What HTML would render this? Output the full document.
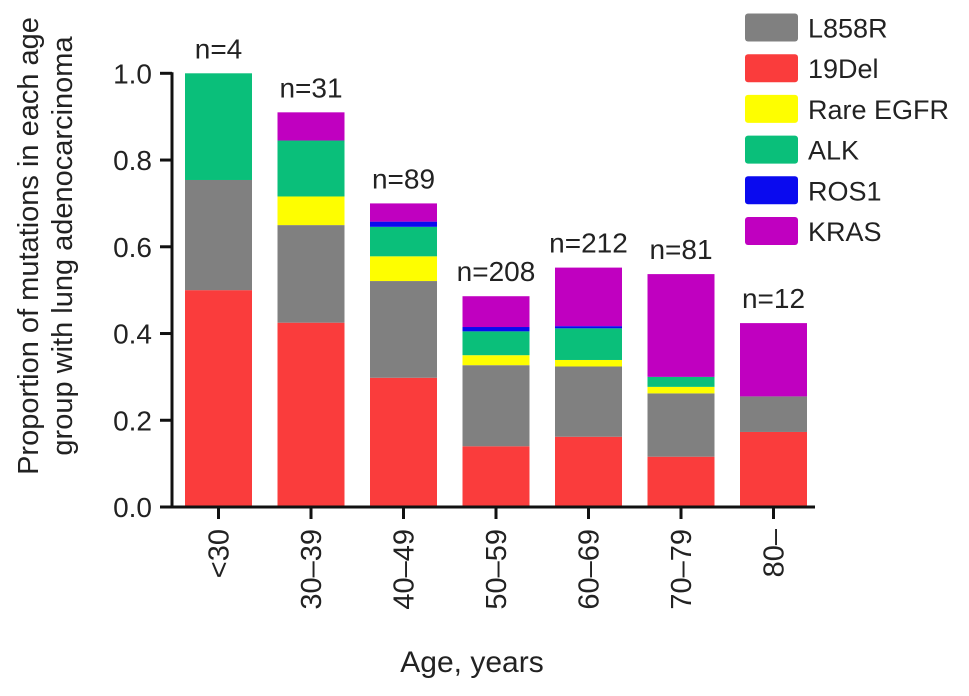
<!DOCTYPE html>
<html><head><meta charset="utf-8"><style>
body{margin:0;background:#fff}
svg text{font-family:"Liberation Sans",Arial,sans-serif;fill:#222}
</style></head><body>
<svg id="chart" width="969" height="691" viewBox="0 0 969 691" xmlns="http://www.w3.org/2000/svg">
<g id="bars"></g>
<g id="axes"></g>
<g id="legend"></g>
<text transform="translate(38,246) rotate(-90)" text-anchor="middle" font-size="29">Proportion of mutations in each age</text>
<text transform="translate(72,246) rotate(-90)" text-anchor="middle" font-size="29">group with lung adenocarcinoma</text>
<text x="472" y="672" text-anchor="middle" font-size="30">Age, years</text>
</svg>
<script>
const categories=["<30","30\u201339","40\u201349","50\u201359","60\u201369","70\u201379","80\u2013"];
const counts=["n=4","n=31","n=89","n=208","n=212","n=81","n=12"];
const seriesNames=["19Del","L858R","Rare EGFR","ALK","ROS1","KRAS"];
const del19=[0.5,0.425,0.298,0.14,0.162,0.116,0.173];
const l858r=[0.254,0.225,0.223,0.187,0.162,0.146,0.082];
const rareEgfr=[0,0.066,0.057,0.023,0.015,0.015,0];
const alk=[0.246,0.129,0.068,0.055,0.073,0.023,0];
const ros1=[0,0,0.012,0.01,0.005,0,0];
const kras=[0,0.065,0.042,0.071,0.135,0.237,0.169];
const yTicks=[0,0.2,0.4,0.6,0.8,1.0];
const yTickLabels=["0.0","0.2","0.4","0.6","0.8","1.0"];
const legendOrder=["L858R","19Del","Rare EGFR","ALK","ROS1","KRAS"];

const colors={"19Del":"#fa3c3c","L858R":"#808080","Rare EGFR":"#fefe00","ALK":"#0abf7a","ROS1":"#0a0aef","KRAS":"#c000c0"};
const series=[del19,l858r,rareEgfr,alk,ros1,kras];
const NS="http://www.w3.org/2000/svg";
const y0=507,y1=73.3,axX=172,firstC=218.5,step=92.5,bw=67;
const yS=v=>y0-(y0-y1)*v;
const xC=i=>firstC+i*step;
function mk(tag,attrs,parent){const e=document.createElementNS(NS,tag);for(const k in attrs)e.setAttribute(k,attrs[k]);parent.appendChild(e);return e;}
const bars=document.getElementById('bars'),axes=document.getElementById('axes'),legend=document.getElementById('legend');
categories.forEach((c,i)=>{
  let cum=0;
  series.forEach((s,j)=>{
    const v=s[i]; if(v<=0)return;
    const r=mk('rect',{x:xC(i)-bw/2,y:yS(cum+v),width:bw,height:yS(cum)-yS(cum+v),fill:colors[seriesNames[j]]},bars);
    
    
    cum+=v;
  });
  const t=mk('text',{x:xC(i),y:yS(cum)-15,'text-anchor':'middle','font-size':'28'},bars);
  t.textContent=counts[i];
  
  
  const tk=mk('line',{x1:xC(i),x2:xC(i),y1:y0,y2:y0+12,stroke:'#111','stroke-width':3},axes);
  
  
  const lb=mk('text',{transform:`translate(${xC(i)+10},${y0+22}) rotate(-90)`,'text-anchor':'end','font-size':'29'},axes);
  lb.textContent=c;
  
  
});
const ya=mk('line',{x1:axX,x2:axX,y1:y1-1,y2:y0+1.5,stroke:'#111','stroke-width':3},axes);


const xa=mk('line',{x1:axX-12,x2:xC(6)+bw/2+8,y1:y0,y2:y0,stroke:'#111','stroke-width':3},axes);


yTicks.forEach((v,k)=>{
  const l=mk('line',{x1:axX-12,x2:axX,y1:yS(v),y2:yS(v),stroke:'#111','stroke-width':3},axes);
  
  
  const t=mk('text',{x:axX-20,y:yS(v)+10,'text-anchor':'end','font-size':'28'},axes);
  t.textContent=yTickLabels[k];
  
  
});
legendOrder.forEach((n,k)=>{
  const cy=27.5+k*40.7;
  const r=mk('rect',{x:745,y:cy-14,width:53,height:28,rx:3,fill:colors[n]},legend);
  
  
  const t=mk('text',{x:808,y:cy+10,'font-size':'27'},legend);
  t.textContent=n;
  
  
});
</script>
</body></html>
